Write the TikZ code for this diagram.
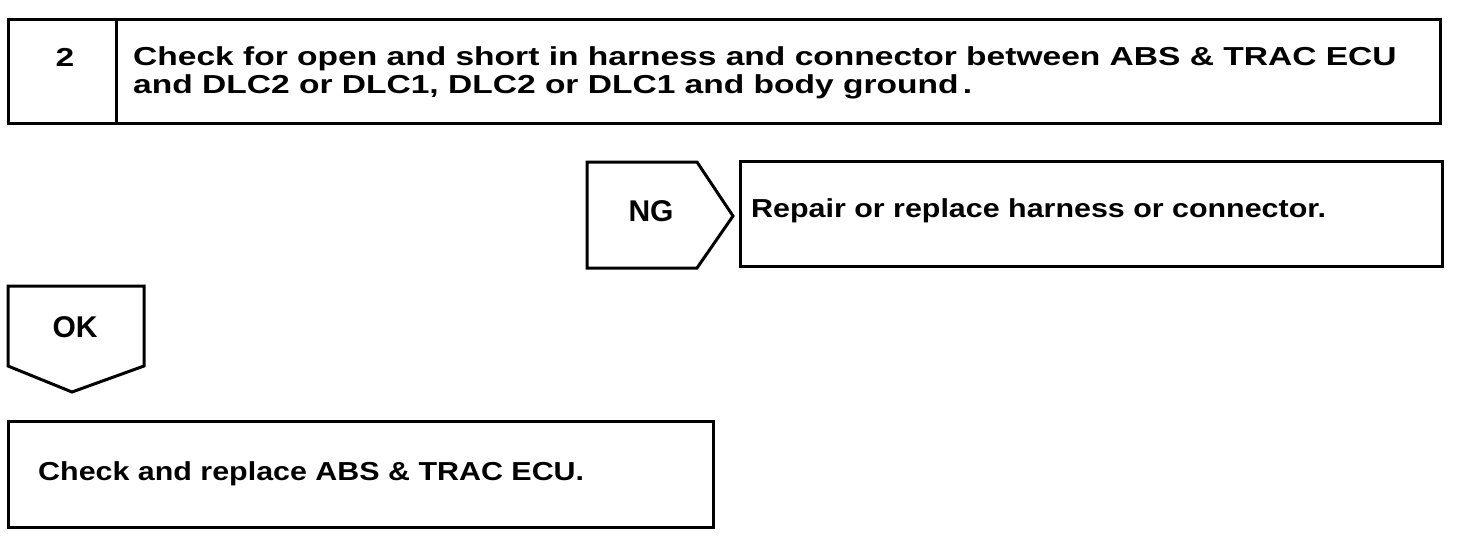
\documentclass[tikz,border=0pt]{standalone}
\usepackage{fontspec}
\setmainfont{Liberation Sans}
\newfontfamily\wideA[FakeStretch=1.29]{Liberation Sans}
\newfontfamily\wideB[FakeStretch=1.17]{Liberation Sans}
\begin{document}
\begin{tikzpicture}[x=1pt,y=-1pt,
  frame/.style={draw=black,line width=3pt},
  ttl/.style={inner sep=0pt,font=\wideA\bfseries\fontsize{26}{31}\selectfont,anchor=base west},
  lbl/.style={inner sep=0pt,font=\wideB\bfseries\fontsize{26}{31}\selectfont,anchor=base west},
  tag/.style={inner sep=0pt,font=\bfseries\fontsize{30}{36}\selectfont,anchor=base}]
\useasboundingbox (0,0) rectangle (1472,538);
% top box
\draw[frame] (8,19) rectangle (1440,123);
\draw[frame] (116,19) -- (116,123);
\node[ttl,anchor=base] (num) at (65,66) {2};
\node[ttl] (title1) at (133,65) {Check for open and short in harness and connector between ABS \& TRAC ECU};
\node[ttl] (title2) at (133,93) {and DLC2 or DLC1, DLC2 or DLC1 and body ground\,.};
% NG tag
\draw[frame] (587,162) -- (697,162) -- (733,216) -- (697,268) -- (587,268) -- cycle;
\node[tag] (ng) at (651,221) {NG};
% repair box
\draw[frame] (740,161) rectangle (1442,266);
\node[lbl] (repair) at (751,217) {Repair or replace harness or connector.};
% OK tag
\draw[frame] (8,286) -- (144,286) -- (144,366) -- (72,392) -- (8,366) -- cycle;
\node[tag] (ok) at (75,337) {OK};
% bottom box
\draw[frame] (8,421) rectangle (713,527);
\node[lbl] (final) at (38,480) {Check and replace ABS \& TRAC ECU.};
\end{tikzpicture}
\end{document}
